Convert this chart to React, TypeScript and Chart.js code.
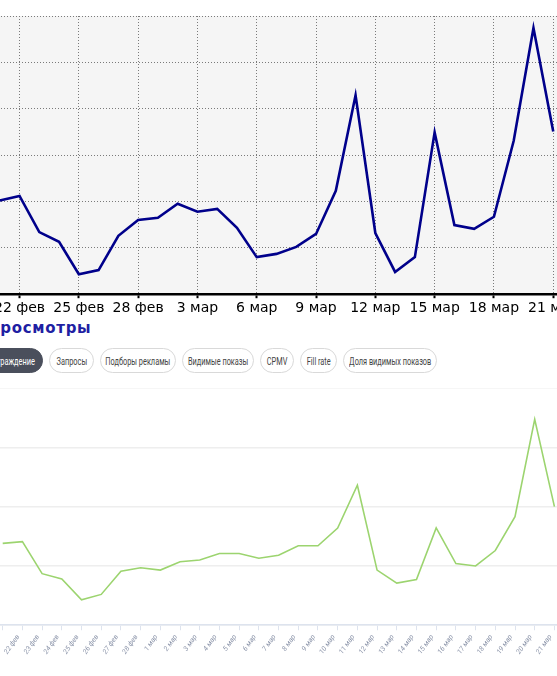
import React, { useEffect, useRef } from 'react';
import { Chart, registerables } from 'chart.js';

Chart.register(...registerables);

// Days shown on both charts (first and last are only partly visible)
const dates = [
  '20 фев', '21 фев', '22 фев', '23 фев', '24 фев', '25 фев', '26 фев', '27 фев', '28 фев',
  '1 мар', '2 мар', '3 мар', '4 мар', '5 мар', '6 мар', '7 мар', '8 мар', '9 мар', '10 мар',
  '11 мар', '12 мар', '13 мар', '14 мар', '15 мар', '16 мар', '17 мар', '18 мар', '19 мар',
  '20 мар', '21 мар', '22 мар',
];

// Upper chart (dark blue line), in grid units
const upperSeries = [
  null, 2.02, 2.12, 1.34, 1.13, 0.43, 0.52, 1.26, 1.6, 1.65, 1.95, 1.78, 1.84, 1.43, 0.8,
  0.87, 1.02, 1.3, 2.23, 4.29, 1.32, 0.48, 0.8, 3.49, 1.49, 1.41, 1.67, 3.31, 5.74, 3.51, null,
];

// Lower chart (green line), in grid units
const lowerSeries = [
  null, 1.38, 1.41, 0.87, 0.78, 0.43, 0.52, 0.91, 0.97, 0.93, 1.07, 1.1, 1.21, 1.21, 1.13,
  1.18, 1.34, 1.34, 1.64, 2.36, 0.93, 0.71, 0.77, 1.64, 1.04, 1.0, 1.26, 1.83, 3.47, 2.0, null,
];

const upperMax = 6;
const lowerMax = 4;

const tabs = ['Вознаграждение', 'Запросы', 'Подборы рекламы', 'Видимые показы', 'CPMV', 'Fill rate', 'Доля видимых показов'];

const TAB_WIDTHS = [74, 45, 76, 72, 34, 37, 94];

const bgPlugin = {
  id: 'plotBg',
  beforeDraw(chart: any) {
    const { ctx, chartArea } = chart;
    ctx.save();
    ctx.fillStyle = '#f5f5f5';
    ctx.fillRect(chartArea.left, chartArea.top, chartArea.right - chartArea.left, chartArea.bottom - chartArea.top);
    ctx.restore();
  },
};

export default function App() {
  const upperRef = useRef<HTMLCanvasElement>(null);
  const lowerRef = useRef<HTMLCanvasElement>(null);

  useEffect(() => {
    const upper = new Chart(upperRef.current as HTMLCanvasElement, {
      type: 'line',
      data: {
        labels: dates,
        datasets: [{
          data: upperSeries,
          borderColor: '#00008b',
          borderWidth: 2.6,
          pointRadius: 0,
          tension: 0,
          fill: false,
        }],
      },
      options: {
        animation: false,
        responsive: false,
        maintainAspectRatio: false,
        layout: { padding: 0 },
        plugins: { legend: { display: false }, tooltip: { enabled: false } },
        scales: {
          x: {
            ticks: {
              autoSkip: false,
              maxRotation: 0,
              minRotation: 0,
              padding: 2,
              color: '#000',
              font: { family: 'DejaVu Sans', size: 14 },
              callback: (_v: any, i: number) => (i % 3 === 2 ? dates[i] : ''),
            },
            grid: {
              color: (c: any) => (c.index % 3 === 2 ? '#7a7a7a' : 'transparent'),
              lineWidth: 1,
              tickLength: 4,
              tickWidth: 2,
              tickColor: (c: any) => (c.index % 3 === 2 ? '#000' : 'transparent'),
            },
            border: { display: true, color: '#000', width: 2.5, dash: [1, 2] },
          },
          y: {
            min: 0,
            max: upperMax,
            ticks: { display: false, stepSize: 1 },
            grid: { color: '#7a7a7a', lineWidth: 1, drawTicks: false },
            border: { display: false, dash: [1, 2] },
          },
        },
      },
      plugins: [bgPlugin],
    });

    const lower = new Chart(lowerRef.current as HTMLCanvasElement, {
      type: 'line',
      data: {
        labels: dates,
        datasets: [{
          data: lowerSeries,
          borderColor: '#9cd46f',
          borderWidth: 1.6,
          pointRadius: 0,
          tension: 0,
          fill: false,
        }],
      },
      options: {
        animation: false,
        responsive: false,
        maintainAspectRatio: false,
        layout: { padding: 0 },
        plugins: { legend: { display: false }, tooltip: { enabled: false } },
        scales: {
          x: {
            ticks: {
              autoSkip: false,
              maxRotation: 55,
              minRotation: 55,
              padding: 3,
              labelOffset: -4,
              color: '#8c95aa',
              font: { family: 'Roboto, sans-serif', size: 7, style: 'italic' },
              callback: (_v: any, i: number) => (i === 0 || i === dates.length - 1 ? '' : dates[i]),
            },
            grid: {
              drawOnChartArea: false,
              drawTicks: true,
              tickLength: 5,
              color: '#dde3ee',
              lineWidth: 1,
            },
            border: { display: true, color: '#dde3ee', width: 1.5 },
          },
          y: {
            min: 0,
            max: lowerMax,
            ticks: { display: false, stepSize: 1 },
            grid: { color: '#eeeeee', lineWidth: 1.5, drawTicks: false },
            border: { display: false },
          },
        },
      },
    });

    return () => {
      upper.destroy();
      lower.destroy();
    };
  }, []);

  let x = -31;
  const tabEls = tabs.map((t, i) => {
    const left = x;
    x += TAB_WIDTHS[i] + 6;
    const active = i === 0;
    return (
      <div
        key={t}
        style={{
          position: 'absolute',
          left,
          top: 348,
          width: TAB_WIDTHS[i],
          height: 25,
          boxSizing: 'border-box',
          borderRadius: 12.5,
          border: active ? '1px solid #4a4f5c' : '1px solid #d9d9d9',
          background: active ? '#4a4f5c' : '#fff',
          color: active ? '#fff' : '#444',
          display: 'flex',
          alignItems: 'center',
          justifyContent: 'center',
          whiteSpace: 'nowrap',
          overflow: 'visible',
        }}
      >
        <span
          style={{
            display: 'inline-block',
            font: '11.5px Roboto, sans-serif',
            transform: 'scaleX(0.64)',
            whiteSpace: 'nowrap',
          }}
        >
          {t}
        </span>
      </div>
    );
  });

  return (
    <div style={{ position: 'fixed', left: 0, top: 0, width: 557, height: 676, overflow: 'hidden', background: '#fff' }}>
      <canvas
        ref={upperRef}
        width={597}
        height={303}
        style={{ position: 'absolute', left: -22, top: 16, width: 597, height: 303 }}
      />
      <div
        style={{
          position: 'absolute',
          left: -13,
          top: 319,
          font: 'bold 15px "DejaVu Sans", sans-serif',
          letterSpacing: 0.7,
          color: '#1f1fa3',
          whiteSpace: 'nowrap',
        }}
      >
        Просмотры
      </div>
      {tabEls}
      <canvas
        ref={lowerRef}
        width={604}
        height={271}
        style={{ position: 'absolute', left: -20, top: 388, width: 604, height: 271 }}
      />
    </div>
  );
}
